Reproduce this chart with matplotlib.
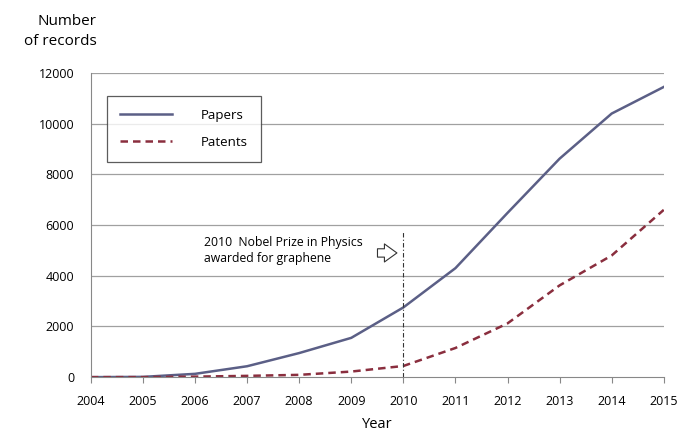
import matplotlib.pyplot as plt

years = [2004, 2005, 2006, 2007, 2008, 2009, 2010, 2011, 2012, 2013, 2014, 2015]
papers = [0, 10, 130, 430, 950, 1550, 2750, 4300, 6480, 8620, 10400, 11450]
patents = [0, 0, 20, 50, 90, 220, 440, 1150, 2120, 3620, 4800, 6600]

plt.rcParams['font.family'] = ['Open Sans', 'DejaVu Sans']

fig = plt.figure(figsize=(6.78, 4.32), dpi=100)
ax = fig.add_axes([0.134, 0.127, 0.845, 0.704])

for y in range(2000, 12001, 2000):
    ax.axhline(y, color='#a0a0a0', lw=0.9, zorder=0)

ax.plot(years, papers, color='#5b5f86', lw=1.8, label='Papers')
ax.plot(years, patents, color='#8a2e3e', lw=1.8, ls=(0, (3, 2)), label='Patents')

# Nobel prize marker
ax.plot([2010, 2010], [0, 5720], color='#333333', lw=0.8, ls=(0, (4, 2, 1, 2)))
ax.text(2006.18, 5000, '2010  Nobel Prize in Physics\nawarded for graphene',
        fontsize=8.8, va='center', ha='left', linespacing=1.35)
ax.annotate('', xy=(2009.93, 4900), xytext=(2009.45, 4900),
            arrowprops=dict(arrowstyle='simple,head_width=1.3,head_length=0.9,tail_width=0.6',
                            fc='white', ec='#333333', lw=0.8))

ax.set_xlim(2004, 2015)
ax.set_ylim(0, 12000)
ax.set_xticks(years)
ax.set_yticks(range(0, 12001, 2000))
ax.tick_params(axis='both', labelsize=9, length=4, color='#888888')
ax.tick_params(axis='x', direction='out', pad=9)
ax.tick_params(axis='y', length=0, pad=12)

for s in ['top', 'right']:
    ax.spines[s].set_visible(False)
ax.spines['left'].set_color('#888888')
ax.spines['bottom'].set_color('#888888')

ax.set_xlabel('Year', fontsize=10.5, labelpad=6)
fig.text(0.142, 0.928, 'Number\nof records', fontsize=11, ha='right', va='center',
         multialignment='right', linespacing=1.45)

leg = ax.legend(loc='upper left', bbox_to_anchor=(0.028, 0.925), fontsize=9.5,
                frameon=True, fancybox=False, edgecolor='#333333',
                handlelength=3.9, borderpad=1.0, labelspacing=1.05, handletextpad=2.2,
                borderaxespad=0)
leg.get_frame().set_linewidth(0.9)

fig.savefig('out.png', dpi=100)
